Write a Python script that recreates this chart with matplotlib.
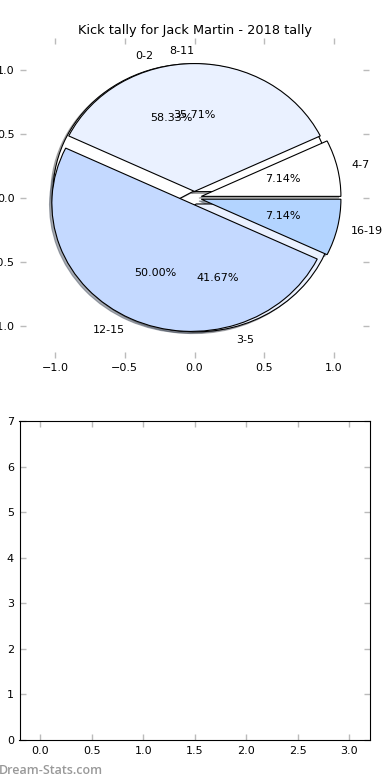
import matplotlib
matplotlib.use("Agg")
import matplotlib.pyplot as plt

# kick counts split two ways, drawn on the same axes
labels_a = ["0-2", "3-5"]
kicks_a = [7, 5]
labels_b = ["4-7", "8-11", "12-15", "16-19"]
kicks_b = [1, 5, 7, 1]

colors = ["#ffffff", "#eaf1ff", "#c4d9ff", "#b3d4ff"]
title = "Kick tally for Jack Martin - 2018 tally"

plt.rcParams["font.family"] = "DejaVu Sans"
plt.rcParams["font.size"] = 8

fig = plt.figure(figsize=(3.9, 7.8), dpi=100)
ax1 = fig.add_axes([20 / 390, 1 - 357.6 / 780, 349 / 390, 319.6 / 780])
ax2 = fig.add_axes([19.5 / 390, 1 - 740 / 780, 350.5 / 390, 319 / 780])

wp = dict(edgecolor="black", linewidth=0.8)
shadow = dict(ox=-0.012, oy=-0.01, shade=0.6)
ax1.pie(kicks_a, labels=labels_a, colors=colors[:2], explode=[0.05] * 2,
        autopct="%1.2f%%", shadow=shadow, wedgeprops=wp, frame=True)
_, texts_b, _ = ax1.pie(kicks_b, labels=labels_b, colors=colors,
                        explode=[0.05] * 4, autopct="%1.2f%%",
                        shadow=shadow, wedgeprops=wp, frame=True)
texts_b[1].set_horizontalalignment("right")
ax1.set_aspect("auto")
ax1.set_xlim(-1.25, 1.25)
ax1.set_ylim(-1.25, 1.25)
ax1.set_xticks([-1.0, -0.5, 0.0, 0.5, 1.0])
ax1.set_yticks([-1.0, -0.5, 0.0, 0.5, 1.0])
for s in ax1.spines.values():
    s.set_visible(False)
ax1.set_title(title, fontsize=9.3, pad=3)

ax2.set_xlim(-0.2, 3.2)
ax2.set_ylim(0, 7)
ax2.set_xticks([0.0, 0.5, 1.0, 1.5, 2.0, 2.5, 3.0])
ax2.set_yticks(range(8))

for ax in (ax1, ax2):
    ax.tick_params(direction="in", length=4, width=1, color="#bbbbbb",
                   top=True, right=True, labelsize=8, pad=4)

fig.text(-0.004, 1 - 770 / 780, "Dream-Stats.com", color="#999999",
         fontsize=9, fontweight="semibold", family="Open Sans", va="center")

fig.savefig("out.png", dpi=100)
